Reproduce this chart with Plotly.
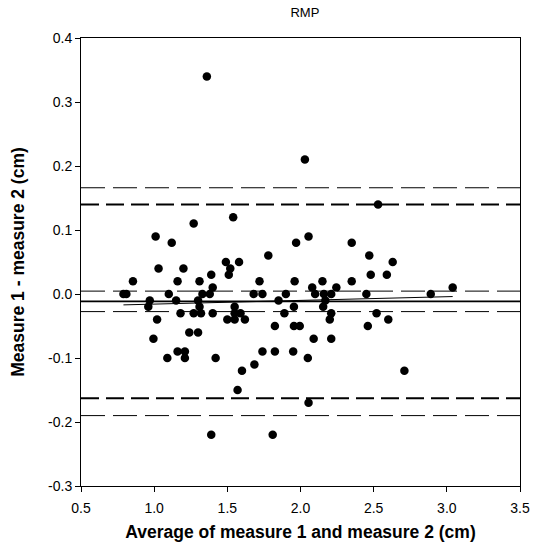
import plotly.graph_objects as go

# Bland-Altman data (average, difference)
avg = [1.36, 2.03, 2.53, 1.01, 1.27, 1.54, 1.12, 2.055, 1.97, 2.35,
       1.78, 2.47, 1.49, 1.58, 2.63, 1.03, 1.20, 1.52, 1.51, 1.39,
       2.48, 2.59, 0.855, 1.16, 1.31, 1.72, 1.96, 2.15, 2.35, 1.40,
       2.08, 2.245, 3.04, 0.79, 0.81, 1.10, 1.33, 1.38, 1.68, 1.74,
       1.90, 2.10, 2.16, 2.21, 2.45, 2.89, 0.97, 1.15, 1.30, 1.85,
       2.17, 0.96, 1.31, 1.55, 1.955, 2.155, 1.18, 1.27, 1.32, 1.40,
       1.55, 1.59, 1.89, 2.21, 2.52, 1.02, 1.50, 1.55, 1.62, 2.20,
       2.60, 1.825, 1.955, 1.995, 2.46, 1.24, 1.30, 0.995, 2.09, 2.21,
       1.16, 1.21, 1.74, 1.825, 1.95, 1.09, 1.21, 1.42, 2.05, 1.685,
       1.60, 2.71, 1.57, 2.055, 1.39, 1.81]
diff = [0.34, 0.21, 0.14, 0.09, 0.11, 0.12, 0.08, 0.09, 0.08, 0.08,
        0.06, 0.06, 0.05, 0.05, 0.05, 0.04, 0.04, 0.04, 0.03, 0.03,
        0.03, 0.03, 0.02, 0.02, 0.02, 0.02, 0.02, 0.02, 0.02, 0.01,
        0.01, 0.01, 0.01, 0.0, 0.0, 0.0, 0.0, 0.0, 0.0, 0.0,
        0.0, 0.0, 0.0, 0.0, 0.0, 0.0, -0.01, -0.01, -0.01, -0.01,
        -0.01, -0.02, -0.02, -0.02, -0.02, -0.02, -0.03, -0.03, -0.03, -0.03,
        -0.03, -0.03, -0.03, -0.03, -0.03, -0.04, -0.04, -0.04, -0.04, -0.04,
        -0.04, -0.05, -0.05, -0.05, -0.05, -0.06, -0.06, -0.07, -0.07, -0.07,
        -0.09, -0.09, -0.09, -0.09, -0.09, -0.10, -0.10, -0.10, -0.10, -0.11,
        -0.12, -0.12, -0.15, -0.17, -0.22, -0.22]

# Reference lines
mean_diff = -0.0115
mean_ci = [0.0045, -0.0275]
limits = [0.140, -0.163]
limit_outer = [0.166, -0.190]

# Regression line endpoints
reg_x = [0.79, 3.04]
reg_y = [-0.017, -0.004]

x_range = [0.5, 3.5]
y_range = [-0.3, 0.4]
x_ticks = [0.5, 1.0, 1.5, 2.0, 2.5, 3.0, 3.5]
x_ticktext = ["0.5", "1.0", "1.5", "2.0", "2.5", "3.0", "3.5"]
y_ticks = [-0.3, -0.2, -0.1, 0.0, 0.1, 0.2, 0.3, 0.4]
y_ticktext = ["-0.3", "-0.2", "-0.1", "0.0", "0.1", "0.2", "0.3", "0.4"]

FONT = "Liberation Sans, Arial"

fig = go.Figure()

def hline(y, width, dash):
    fig.add_trace(go.Scatter(x=x_range, y=[y, y], mode="lines",
                             line=dict(color="black", width=width, dash=dash),
                             hoverinfo="skip", showlegend=False))

for v in limit_outer:
    hline(v, 1, "24px,8px")
for v in mean_ci:
    hline(v, 1, "24px,8px")
for v in limits:
    hline(v, 2, "18px,7px")
hline(mean_diff, 1.6, "solid")

fig.add_trace(go.Scatter(x=reg_x, y=reg_y, mode="lines",
                         line=dict(color="black", width=1),
                         hoverinfo="skip", showlegend=False))

fig.add_trace(go.Scatter(x=avg, y=diff, mode="markers",
                         marker=dict(color="black", size=8.5),
                         showlegend=False))

axis_common = dict(showgrid=False, zeroline=False, showline=True,
                   linecolor="black", linewidth=1, mirror=True,
                   ticks="outside", ticklen=5, tickcolor="black",
                   tickfont=dict(family=FONT, size=14, color="black"))

fig.update_layout(
    width=542, height=556,
    margin=dict(l=81, r=13, t=38, b=70),
    paper_bgcolor="white", plot_bgcolor="white",
    title=dict(text="RMP", x=0.5625, xanchor="center", y=0.978, yanchor="middle",
               font=dict(family=FONT, size=13, color="black")),
    xaxis=dict(range=x_range, tickvals=x_ticks, ticktext=x_ticktext,
               title=dict(text="<b>Average of measure 1 and measure 2 (cm)</b>",
                          font=dict(family=FONT, size=17.5, color="black"),
                          standoff=10),
               ticklabelstandoff=4,
               **axis_common),
    yaxis=dict(range=y_range, tickvals=y_ticks, ticktext=y_ticktext,
               title=dict(text="<b>Measure 1 - measure 2 (cm)</b>",
                          font=dict(family=FONT, size=17.5, color="black"),
                          standoff=18),
               **axis_common),
)

fig.write_html("out.html")
